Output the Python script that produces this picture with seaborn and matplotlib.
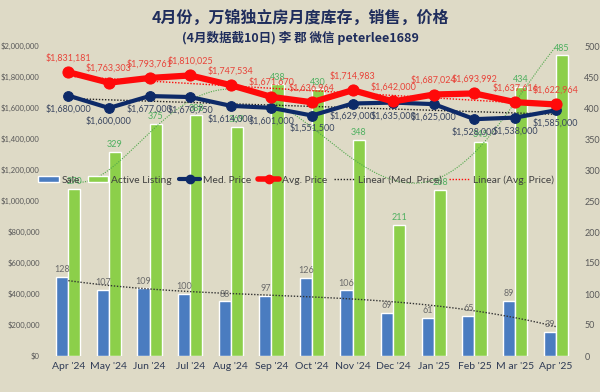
import numpy as np
import pandas as pd
import matplotlib
matplotlib.use("Agg")
import matplotlib.pyplot as plt
import seaborn as sns
from matplotlib.patches import Patch
from matplotlib.lines import Line2D

months = ["Apr '24", "May '24", "Jun '24", "Jul '24", "Aug '24", "Sep '24", "Oct '24",
          "Nov '24", "Dec '24", "Jan '25", "Feb '25", "M ar '25", "Apr '25"]
sales = [128, 107, 109, 100, 88, 97, 126, 106, 69, 61, 65, 89, 39]
active = [270, 329, 375, 388, 369, 438, 430, 348, 211, 268, 345, 434, 485]
med_price = [1680000, 1600000, 1677000, 1670750, 1614000, 1601000, 1551500,
             1629000, 1635000, 1625000, 1528000, 1538000, 1585000]
avg_price = [1831181, 1763303, 1793761, 1810025, 1747534, 1671670, 1636964,
             1714983, 1642000, 1687024, 1693992, 1637616, 1622964]

BG = "#DEDAC6"
BLUE = "#4A7CC0"
GREEN = "#8CCF4A"
NAVY = "#0D2A68"
RED = "#FF0A0A"
GRAY = "#595959"

sns.set_theme(style="white")
plt.rcParams['font.family'] = ['Lato', 'Noto Sans CJK SC', 'DejaVu Sans']

fig = plt.figure(figsize=(6, 3.92), dpi=100, facecolor=BG)
ax = fig.add_axes([48/600, 1-356/392, (576-48)/600, (356-46)/392])
ax2 = ax.twinx()
ax.set_zorder(ax2.get_zorder() + 1)
ax.patch.set_visible(False)
ax2.set_facecolor(BG)

df = pd.DataFrame({
    "month": months * 2,
    "value": sales + active,
    "series": ["Sale"] * len(months) + ["Active Listing"] * len(months),
})
sns.barplot(data=df, x="month", y="value", hue="series",
            hue_order=["Sale", "Active Listing"],
            palette=[BLUE, GREEN], width=0.6, dodge=True, saturation=1,
            ax=ax2, legend=False)
x = np.arange(len(months))

# bar labels
for cont, col in zip(ax2.containers, ["#6b6b6b", "#4FB060"]):
    ax2.bar_label(cont, fmt="%d", padding=2, fontsize=6.5, color=col)

# trend lines on counts
xf = np.linspace(0, len(months) - 1, 200)
ps = np.polyfit(x, sales, 3)
ax2.plot(xf, np.polyval(ps, xf), color="#333333", ls=(0, (1, 1.2)), lw=1.0)
pa = np.polyfit(x, active, 5)
ax2.plot(xf, np.polyval(pa, xf), color="#4FA84A", ls=(0, (1, 1.2)), lw=0.8)

# price lines
sns.lineplot(x=x, y=med_price, ax=ax, color=NAVY, lw=3, marker="o",
             markersize=7, markeredgecolor=NAVY, zorder=5)
sns.lineplot(x=x, y=avg_price, ax=ax, color=RED, lw=4.5, marker="o",
             markersize=8, markeredgecolor=RED, zorder=6)
pm = np.polyfit(x, med_price, 1)
pv = np.polyfit(x, avg_price, 1)
ax.plot(x, np.polyval(pm, x), color="#222222", ls=(0, (1, 1.2)), lw=1.0, zorder=4)
ax.plot(x, np.polyval(pv, x), color=RED, ls=(0, (1, 1.2)), lw=1.0, zorder=4)

for xi, v in zip(x, avg_price):
    ax.annotate(f"${v:,.0f}", (xi, v), xytext=(0, 7), textcoords="offset points",
                ha="center", va="bottom", fontsize=6.5, color="#E8443A", zorder=7)
for xi, v in zip(x, med_price):
    ax.annotate(f"${v:,.0f}", (xi, v), xytext=(0, -6), textcoords="offset points",
                ha="center", va="top", fontsize=6.5, color="#3A4660", zorder=7)

ax.set_xlim(-0.5, len(months) - 0.5)
ax.set_ylim(0, 2000000)
ax2.set_ylim(0, 500)
ax.set_yticks(np.arange(0, 2000001, 200000))
ax.set_yticklabels([f"${v:,.0f}" for v in np.arange(0, 2000001, 200000)])
ax2.set_yticks(np.arange(0, 501, 50))
ax.tick_params(axis="y", labelsize=5.5, colors=GRAY, length=0, pad=6)
ax2.tick_params(axis="y", labelsize=6.5, colors=GRAY, length=0, pad=6)
ax2.set_xticks(x)
ax2.set_xticklabels(months)
ax.tick_params(axis="x", labelsize=7.5, colors="#2F3B55", length=0, pad=4)
ax2.tick_params(axis="x", labelsize=7.5, colors="#2F3B55", length=0, pad=4)
ax.set_xlabel("")
ax2.set_xlabel("")
ax.set_ylabel("")
ax2.set_ylabel("")
for a in (ax, ax2):
    for s in a.spines.values():
        s.set_visible(False)

handles = [
    Patch(facecolor=BLUE, label="Sale"),
    Patch(facecolor=GREEN, label="Active Listing"),
    Line2D([], [], color=NAVY, lw=3, marker="o", markersize=6, label="Med. Price"),
    Line2D([], [], color=RED, lw=4, marker="o", markersize=6, label="Avg. Price"),
    Line2D([], [], color="#222222", ls=(0, (1, 1.2)), lw=1, label="Linear (Med. Price)"),
    Line2D([], [], color=RED, ls=(0, (1, 1.2)), lw=1, label="Linear (Avg. Price)"),
]
leg = ax.legend(handles=handles, loc="center", bbox_to_anchor=(0.47, (356-180)/310),
                ncol=6, frameon=False, fontsize=7.4, handlelength=2.0, handleheight=0.5,
                columnspacing=0.7, handletextpad=0.3, labelcolor="#404040")
leg.set_zorder(10)

fig.text(0.5, 1-18/392, "4月份，万锦独立房月度库存，销售，价格", ha="center", va="center",
         fontsize=11.5, fontweight="bold", color="#1F2D5C",
         family=['Noto Sans CJK SC', 'DejaVu Sans'])
fig.text(0.5, 1-38/392, "(4月数据截10日) 李 郡 微信 peterlee1689", ha="center", va="center",
         fontsize=9, fontweight="bold", color="#1F2D5C",
         family=['Noto Sans CJK SC', 'DejaVu Sans'])

fig.savefig("out.png", dpi=100, facecolor=BG)
